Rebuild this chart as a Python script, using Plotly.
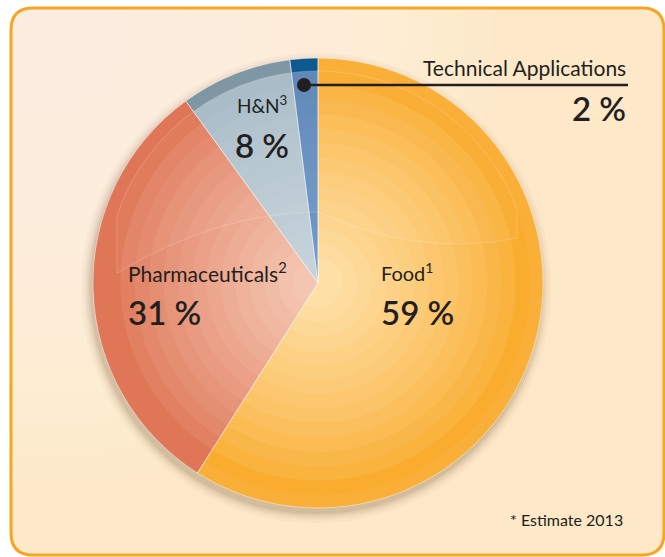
import math
import plotly.graph_objects as go

categories = ["Food", "Pharmaceuticals", "H&N", "Technical Applications"]
shares = [59, 31, 8, 2]
label_texts = ["Food<sup>1</sup>", "Pharmaceuticals<sup>2</sup>", "H&N<sup>3</sup>", "Technical Applications"]
value_texts = ["59 %", "31 %", "8 %", "2 %"]
footnote = "* Estimate 2013"

rim_colors = ["#FAAF38", "#DF7657", "#7F97A3", "#0E5A90"]
outer_colors = ["#F9AC2E", "#DF7656", "#A6BAC5", "#5A84B6"]
inner_colors = ["#FEDFA6", "#F4C6B2", "#C6D3DB", "#7299C8"]

W, H = 665, 557
cx, cy, r = 318, 283, 225
FONT = "Lato"


def hex2rgb(h):
    h = h.lstrip("#")
    return [int(h[i:i + 2], 16) for i in (0, 2, 4)]


def mix(a, b, t):
    ca, cb = hex2rgb(a), hex2rgb(b)
    return "rgb(%d,%d,%d)" % tuple(round(ca[i] + (cb[i] - ca[i]) * t) for i in range(3))


fig = go.Figure()

# background card
x0, y0, x1, y1 = 11, 8, 664, 555
rad = 22
path = (f"M{x0+rad},{y0} L{x1-rad},{y0} Q{x1},{y0} {x1},{y0+rad} L{x1},{y1-rad} "
        f"Q{x1},{y1} {x1-rad},{y1} L{x0+rad},{y1} Q{x0},{y1} {x0},{y1-rad} "
        f"L{x0},{y0+rad} Q{x0},{y0} {x0+rad},{y0} Z")
fig.add_shape(type="path", path=path, xref="x", yref="y",
              fillcolor="#FDE8C8", line_width=0, layer="below")
for i in range(16):
    rr = 480 - i * 28
    fig.add_shape(type="circle", xref="x", yref="y", x0=40 - rr, y0=30 - rr, x1=40 + rr, y1=30 + rr,
                  fillcolor="rgba(255,255,255,0.05)", line_width=0, layer="below")
fig.add_shape(type="path", xref="x", yref="y", layer="below", line_width=0, fillcolor="white",
              path=f"M0,0 L{W},0 L{W},{H} L0,{H} Z " + path, fillrule="evenodd")
fig.add_shape(type="path", path=path, xref="x", yref="y",
              fillcolor="rgba(0,0,0,0)", line=dict(color="#F6A623", width=3), layer="below")

# drop shadow under pie
for dr, op in [(10, 0.03), (7, 0.04), (5, 0.05), (3, 0.07), (1, 0.09)]:
    fig.add_shape(type="circle", xref="x", yref="y",
                  x0=cx - r - dr - 2, y0=cy - r - dr + 5, x1=cx + r + dr - 2, y1=cy + r + dr + 5,
                  fillcolor="rgba(90,65,35,%s)" % op, line_width=0, layer="below")


def dom(rad_):
    return dict(x=[(cx - rad_) / W, (cx + rad_) / W], y=[(H - cy - rad_) / H, (H - cy + rad_) / H])


def add_pie(rad_, cols, lw=0, lc="rgba(0,0,0,0)"):
    fig.add_trace(go.Pie(labels=categories, values=shares, sort=False, direction="clockwise",
                         rotation=0, domain=dom(rad_), textinfo="none", hoverinfo="label+percent",
                         marker=dict(colors=cols, line=dict(color=lc, width=lw)),
                         showlegend=False))


add_pie(r, rim_colors)
steps = 14
r_out, r_in = r - 13, 25
for k in range(steps):
    t = k / (steps - 1)
    rk = r_out + (r_in - r_out) * t
    add_pie(rk, [mix(outer_colors[i], inner_colors[i], t ** 0.8) for i in range(4)])
add_pie(r, ["rgba(0,0,0,0)"] * 4, lw=0.8, lc="rgba(255,255,255,0.55)")

fig.add_trace(go.Scatter(x=[None], y=[None], showlegend=False, hoverinfo="skip"))

# glossy highlight outline over upper pie
ri = r - 13
xl, xr = 117, 517
al = math.atan2(-(math.sqrt(ri**2 - (xl - cx)**2)), xl - cx)
ar = math.atan2(-(math.sqrt(ri**2 - (xr - cx)**2)), xr - cx)
pts = []
n = 40
for j in range(n + 1):
    a = al + (ar - al + 2 * math.pi) * j / n if ar < al else al + (ar - al) * j / n
    pts.append((cx + ri * math.cos(a), cy + ri * math.sin(a)))
gloss = f"M{xl},273 L{pts[0][0]:.1f},{pts[0][1]:.1f} " + " ".join(
    f"L{px:.1f},{py:.1f}" for px, py in pts[1:]) + f" L{xr},238 Q420,258 318,212 Q220,212 {xl},273 Z"
fig.add_shape(type="path", xref="x", yref="y", path=gloss, layer="above",
              fillcolor="rgba(255,255,255,0.04)", line=dict(color="rgba(255,255,255,0.28)", width=0.7))

# callout line and dot for technical applications
fig.add_shape(type="line", xref="x", yref="y", x0=304, y0=85, x1=628, y1=85,
              line=dict(color="#231F20", width=2.5))
fig.add_shape(type="circle", xref="x", yref="y", x0=297, y0=78, x1=311, y1=92,
              fillcolor="#231F20", line_width=0)

txt = "#231F20"
anns = [
    dict(x=628, y=67, text=label_texts[3], xanchor="right", size=21, bold=False),
    dict(x=628, y=108, text=value_texts[3], xanchor="right", size=33, bold=True),
    dict(x=262, y=104, text=label_texts[2], xanchor="center", size=19, bold=False),
    dict(x=262, y=145, text=value_texts[2], xanchor="center", size=33, bold=True),
    dict(x=126, y=272, text=label_texts[1], xanchor="left", size=21, bold=False),
    dict(x=126, y=312, text=value_texts[1], xanchor="left", size=33, bold=True),
    dict(x=379, y=272, text=label_texts[0], xanchor="left", size=20, bold=False),
    dict(x=379, y=312, text=value_texts[0], xanchor="left", size=33, bold=True),
    dict(x=625, y=519, text=footnote, xanchor="right", size=16, bold=False),
]
for a in anns:
    fig.add_annotation(x=a["x"], y=a["y"], xref="x", yref="y", text=a["text"], showarrow=False,
                       xanchor=a["xanchor"], yanchor="middle",
                       font=dict(family=FONT, size=a["size"], color=txt,
                                 weight=600 if a["bold"] else 400))

fig.update_xaxes(range=[0, W], visible=False, fixedrange=True)
fig.update_yaxes(range=[H, 0], visible=False, fixedrange=True)
fig.update_layout(width=W, height=H, margin=dict(l=0, r=0, t=0, b=0),
                  paper_bgcolor="white", plot_bgcolor="rgba(0,0,0,0)", showlegend=False)

fig.write_html("out.html", config={"displayModeBar": False},
               post_script="document.body.style.margin='0px';")
